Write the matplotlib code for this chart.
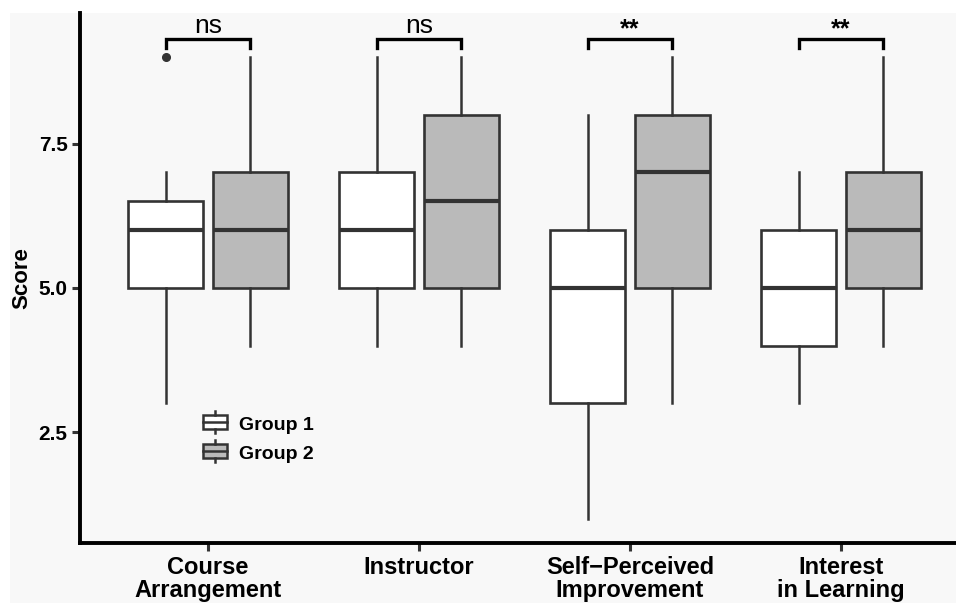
import matplotlib
matplotlib.use("Agg")
import matplotlib.pyplot as plt
from matplotlib.patches import Rectangle
from matplotlib.lines import Line2D
from matplotlib.legend_handler import HandlerBase

plt.rcParams['font.family'] = ['Liberation Sans', 'DejaVu Sans']

categories = ["Course\nArrangement", "Instructor", "Self\u2212Perceived\nImprovement", "Interest\nin Learning"]
groups = ["Group 1", "Group 2"]
# (whisker low, q1, median, q3, whisker high)
group1 = [(3, 5, 6, 6.5, 7), (4, 5, 6, 7, 9), (1, 3, 5, 6, 8), (3, 4, 5, 6, 7)]
group2 = [(4, 5, 6, 7, 9), (4, 5, 6.5, 8, 9), (3, 5, 7, 8, 9), (4, 5, 6, 7, 9)]
outliers1 = [[9], [], [], []]
outliers2 = [[], [], [], []]
signif = ["ns", "ns", "**", "**"]
yticks = [2.5, 5.0, 7.5]

fills = ["white", "#bababa"]
edge = "#333333"
bg = "#f8f8f8"

fig = plt.figure(figsize=(9.56, 6.03), dpi=100)
fig.patch.set_facecolor("white")
fig.patches.append(Rectangle((10 / 956, 0), 1, (603 - 13) / 603, transform=fig.transFigure,
                             facecolor=bg, edgecolor="none", zorder=-10))
ax = fig.add_axes([80 / 956, 60 / 603, 1 - 80 / 956, (543 - 13) / 603])
ax.set_facecolor(bg)

offset = 0.2
width = 0.355
for gi, (data, outs) in enumerate([(group1, outliers1), (group2, outliers2)]):
    stats = []
    for (lo, q1, med, q3, hi), fl in zip(data, outs):
        stats.append(dict(whislo=lo, q1=q1, med=med, q3=q3, whishi=hi, fliers=fl))
    pos = [i + 1 + (offset if gi else -offset) for i in range(len(data))]
    ax.bxp(stats, positions=pos, widths=width, patch_artist=True, showcaps=False,
           boxprops=dict(facecolor=fills[gi], edgecolor=edge, linewidth=1.9),
           whiskerprops=dict(color=edge, linewidth=1.8),
           medianprops=dict(color=edge, linewidth=3.0, solid_capstyle="butt"),
           flierprops=dict(marker="o", markerfacecolor=edge, markeredgecolor=edge, markersize=5.5),
           manage_ticks=False)

# significance brackets
for i, lab in enumerate(signif):
    x1, x2 = i + 1 - offset, i + 1 + offset
    ax.plot([x1, x1, x2, x2], [9.15, 9.31, 9.31, 9.15], color="black", lw=2.4,
            solid_joinstyle="miter", clip_on=False)
    if lab == "ns":
        ax.text(i + 1, 9.42, lab, ha="center", va="baseline", fontsize=19)
    else:
        ax.text(i + 1, 9.36, lab, ha="center", va="baseline", fontsize=18, fontweight="bold")

ax.set_xlim(0.393, 4.545)
ax.set_ylim(0.585, 9.76)
ax.set_xticks(range(1, len(categories) + 1))
ax.set_xticklabels(categories, fontsize=17, fontweight="bold", linespacing=1.0)
ax.set_yticks(yticks)
ax.set_yticklabels([f"{v:.1f}" for v in yticks], fontsize=15, fontweight="bold")
ax.set_ylabel("Score", fontsize=16, fontweight="bold", va="center")
ax.yaxis.set_label_coords(-0.066, 0.5)
ax.tick_params(axis="both", length=5.5, width=2.2, color=edge)
ax.tick_params(axis="y", pad=3.5)
ax.tick_params(axis="x", pad=3.5)
for s in ["top", "right"]:
    ax.spines[s].set_visible(False)
for s in ["left", "bottom"]:
    ax.spines[s].set_linewidth(2.8)
    ax.spines[s].set_color("black")


class BoxHandler(HandlerBase):
    def __init__(self, fc):
        super().__init__()
        self.fc = fc

    def create_artists(self, legend, orig, xd, yd, w, h, fs, trans):
        cx = xd + w / 2
        r = Rectangle((xd, yd), w, h, facecolor=self.fc, edgecolor=edge, lw=1.8, transform=trans)
        m = Line2D([xd, xd + w], [yd + h / 2] * 2, color=edge, lw=1.8, transform=trans)
        t = Line2D([cx, cx], [yd + h, yd + h + 2.5], color=edge, lw=1.8, transform=trans)
        b = Line2D([cx, cx], [yd, yd - 2.5], color=edge, lw=1.8, transform=trans)
        return [r, m, t, b]


handles = [Rectangle((0, 0), 1, 1, facecolor=f) for f in fills]
leg = ax.legend(handles, groups, loc="upper left", bbox_to_anchor=(0.1404, 0.24), frameon=False,
                prop=dict(size=14, weight="bold"), handlelength=1.24, handleheight=0.78,
                handletextpad=0.62, labelspacing=0.56, borderpad=0, borderaxespad=0,
                handler_map={handles[0]: BoxHandler(fills[0]), handles[1]: BoxHandler(fills[1])})

fig.savefig("out.png", dpi=100, facecolor=fig.get_facecolor())
